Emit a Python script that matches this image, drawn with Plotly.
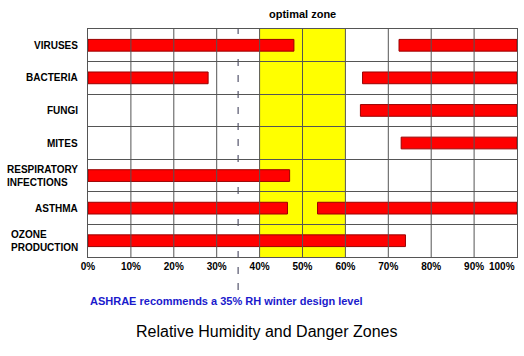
import plotly.graph_objects as go

# ---- data ----
categories = ["VIRUSES", "BACTERIA", "FUNGI", "MITES",
              "RESPIRATORY<br>INFECTIONS", "ASTHMA", "OZONE<br>PRODUCTION"]
# danger zone at low humidity: from 0% up to this value (None = none)
low_zone_end = [48, 28, None, None, 47, 46.5, 74]
# danger zone at high humidity: from this value up to 100% (None = none)
high_zone_start = [72.5, 64, 63.5, 73, None, 53.5, None]
high_zone_end = 100
optimal_zone = [40, 60]
ashrae_level = 35
tick_values = [0, 10, 20, 30, 40, 50, 60, 70, 80, 90, 100]
tick_labels = ["0%", "10%", "20%", "30%", "40%", "50%", "60%", "70%", "80%", "90%", "100%"]

FONT = "Liberation Sans, Arial, sans-serif"
n = len(categories)
row_pos = [n - 1 - i + 0.5 for i in range(n)]

fig = go.Figure()

low_y = [row_pos[i] for i, v in enumerate(low_zone_end) if v is not None]
low_x = [v for v in low_zone_end if v is not None]
high_y = [row_pos[i] for i, v in enumerate(high_zone_start) if v is not None]
high_base = [v for v in high_zone_start if v is not None]
high_x = [high_zone_end - v for v in high_base]

bar_style = dict(orientation="h", width=0.36,
                 marker=dict(color="#ff0000", line=dict(color="#9a0000", width=1)),
                 hoverinfo="skip", showlegend=False)
fig.add_trace(go.Bar(y=low_y, x=low_x, base=[0] * len(low_x), **bar_style))
fig.add_trace(go.Bar(y=high_y, x=high_x, base=high_base, **bar_style))

shapes = []
# optimal zone (yellow)
shapes.append(dict(type="rect", xref="x", yref="paper", x0=optimal_zone[0], x1=optimal_zone[1],
                   y0=0, y1=1, fillcolor="#ffff00", line=dict(width=0), layer="below"))
# ASHRAE dashed line
shapes.append(dict(type="line", xref="x", yref="paper", x0=ashrae_level, x1=ashrae_level,
                   y0=-0.145, y1=1, line=dict(color="#77778a", width=1.5, dash="7px,9px"),
                   layer="between"))
# vertical grid lines drawn above the bars
for v in tick_values[1:-1]:
    shapes.append(dict(type="line", xref="x", yref="paper", x0=v, x1=v, y0=0, y1=1,
                       line=dict(color="#555555", width=1), layer="above"))

TICK_FONT = dict(family=FONT, size=10, color="#000000", weight="bold")

annotations = []
for i, cat in enumerate(categories):
    annotations.append(dict(text="<b>" + cat + "</b>", xref="paper", yref="y", x=0, y=row_pos[i],
                            xanchor="right", yanchor="middle", align="left", xshift=-8,
                            showarrow=False, font=dict(family=FONT, size=10, color="#000000")))
# last tick label sits at the right edge: right-aligned to its tick
annotations.append(dict(text=tick_labels[-1], xref="x", yref="paper", x=tick_values[-1], y=0,
                        xanchor="right", yanchor="top", yshift=-2, showarrow=False,
                        font=TICK_FONT))
annotations.append(dict(text="<b>optimal zone</b>", xref="x", yref="paper",
                        x=(optimal_zone[0] + optimal_zone[1]) / 2, y=1.066,
                        xanchor="center", yanchor="middle", showarrow=False,
                        font=dict(family=FONT, size=11, color="#000000")))
annotations.append(dict(text="<b>ASHRAE recommends a 35% RH winter design level</b>",
                        xref="paper", yref="paper", x=0, y=-0.193, xanchor="left", yanchor="middle",
                        showarrow=False, font=dict(family=FONT, size=11, color="#1a1acc")))
annotations.append(dict(text="Relative Humidity and Danger Zones",
                        xref="paper", yref="paper", x=0.415, y=-0.325, xanchor="center",
                        yanchor="middle", showarrow=False,
                        font=dict(family=FONT, size=16, color="#000000")))

fig.update_layout(
    width=524, height=356,
    margin=dict(l=88, r=7, t=29, b=99),
    paper_bgcolor="white", plot_bgcolor="white",
    barmode="overlay",
    shapes=shapes, annotations=annotations,
    xaxis=dict(range=[0, 100], tickvals=tick_values[:-1], ticktext=tick_labels[:-1],
               showgrid=False, zeroline=False, showline=True, mirror=True,
               linecolor="#555555", linewidth=1, ticks="", automargin=False,
               tickfont=TICK_FONT),
    yaxis=dict(range=[0, n], tickvals=list(range(n + 1)), showticklabels=False,
               showgrid=True, gridcolor="#555555", gridwidth=1, zeroline=False,
               showline=True, mirror=True, linecolor="#555555", linewidth=1, ticks=""),
)

fig.write_html("out.html", config={"displayModeBar": False},
               post_script="document.body.style.margin='0';document.body.style.padding='0';")
